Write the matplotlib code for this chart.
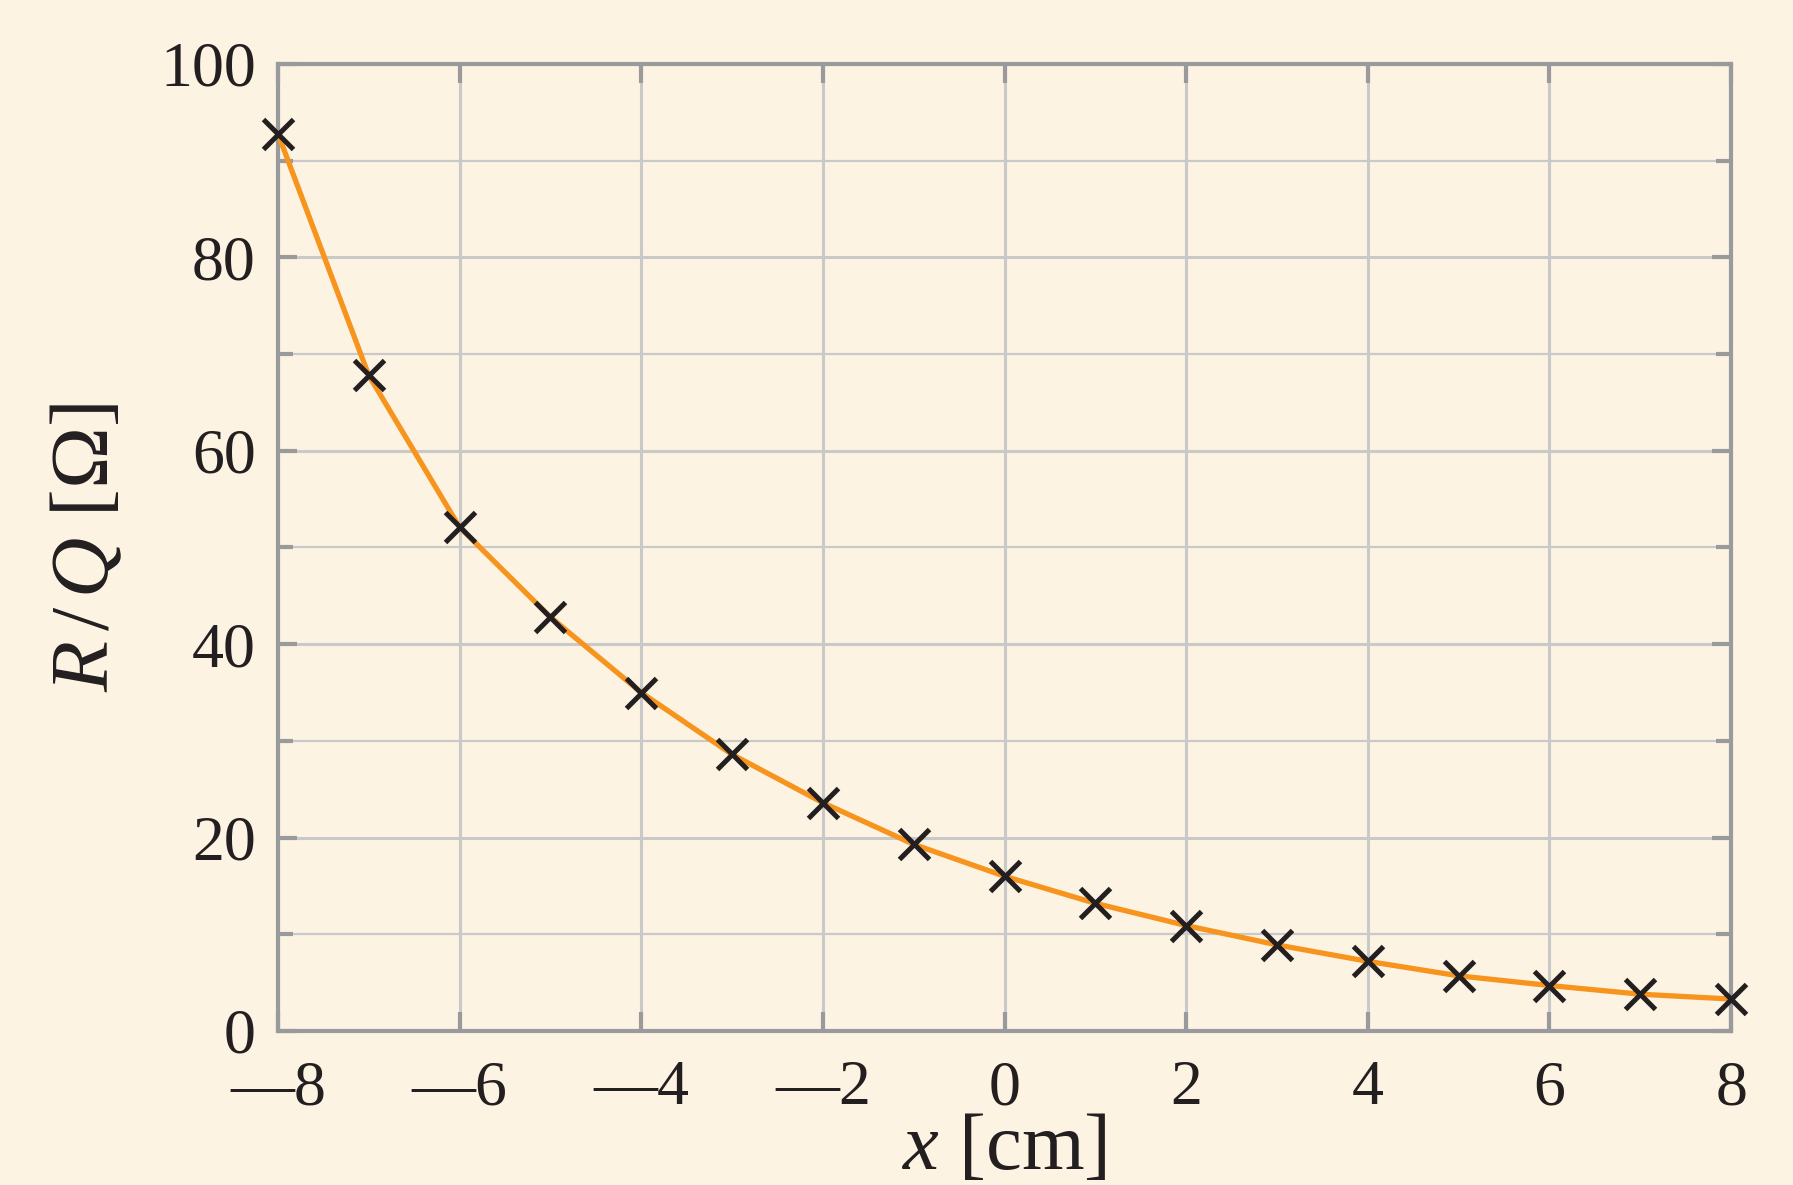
import matplotlib
matplotlib.use("Agg")
import matplotlib.pyplot as plt
from matplotlib.ticker import FixedLocator, FuncFormatter

x_cm = [-8, -7, -6, -5, -4, -3, -2, -1, 0, 1, 2, 3, 4, 5, 6, 7, 8]
r_over_q = [92.8, 67.8, 52.1, 42.8, 35.0, 28.6, 23.6, 19.3, 16.0, 13.2, 10.9, 8.9, 7.2, 5.7, 4.7, 3.8, 3.3]
x_ticks = [-8, -6, -4, -2, 0, 2, 4, 6, 8]
y_ticks = [0, 20, 40, 60, 80, 100]
y_minor = [10, 30, 50, 70, 90]

BG = "#fdf3e2"
ORANGE = "#f7941d"
GRID = "#c9c9c9"
SPINE = "#999a9c"
TEXT = "#231f20"

plt.rcParams['mathtext.fontset'] = 'custom'
plt.rcParams['mathtext.rm'] = 'Liberation Serif'
plt.rcParams['mathtext.it'] = 'Liberation Serif:italic'
plt.rcParams['font.family'] = ['Liberation Serif', 'DejaVu Serif']

fig = plt.figure(figsize=(17.93, 11.85), dpi=100, facecolor=BG)
ax = fig.add_axes([0.155, 0.13, 0.8105, 0.816])
ax.set_facecolor(BG)

ax.plot(x_cm, r_over_q, color=ORANGE, lw=3.8, zorder=3, solid_joinstyle='round')
ax.plot(x_cm, r_over_q, ls='none', marker='x', ms=21, mew=3.6, color=TEXT, zorder=4, clip_on=False)

ax.set_xlim(-8, 8)
ax.set_ylim(0, 100)
ax.xaxis.set_major_locator(FixedLocator(x_ticks))
ax.yaxis.set_major_locator(FixedLocator(y_ticks))
ax.yaxis.set_minor_locator(FixedLocator(y_minor))

def fmt(v, pos):
    v = int(round(v))
    return ("\u2014" + str(-v)) if v < 0 else str(v)

ax.xaxis.set_major_formatter(FuncFormatter(fmt))
ax.yaxis.set_major_formatter(FuncFormatter(fmt))

ax.grid(True, which='major', color=GRID, lw=2.2, zorder=0)
ax.grid(True, which='minor', axis='y', color=GRID, lw=1.6, zorder=0)
ax.set_axisbelow(True)

for s in ax.spines.values():
    s.set_color(SPINE)
    s.set_linewidth(3)

ax.tick_params(which='major', direction='in', length=14, width=3, color=SPINE,
               top=True, right=True, labelsize=46, labelcolor=TEXT)
ax.tick_params(axis='x', which='major', pad=21)
ax.tick_params(axis='y', which='major', pad=16)
ax.tick_params(which='minor', direction='in', length=11, width=3, color=SPINE,
               left=True, right=True)

ax.set_xlabel(r'$x$ [cm]', fontsize=58, color=TEXT, labelpad=-4)
ax.set_ylabel(r'$R\,/\,Q$ [$\Omega$]', fontsize=60, color=TEXT, labelpad=24)

fig.savefig("out.png", dpi=100, facecolor=BG)
